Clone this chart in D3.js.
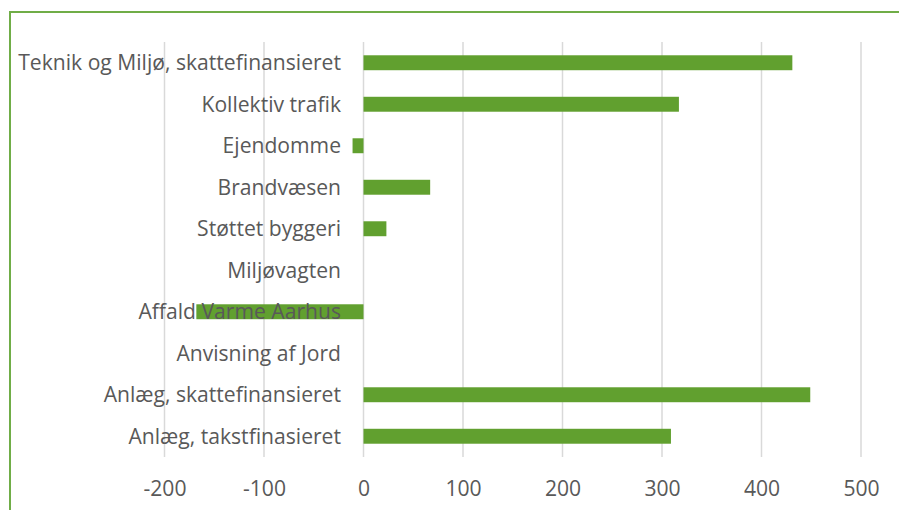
<!DOCTYPE html>
<html><head><meta charset="utf-8">
<script src="https://cdn.jsdelivr.net/npm/d3@7"></script>
<style>body{margin:0;background:#fff}svg{display:block}</style>
</head><body>
<script>
const categories = ["Teknik og Miljø, skattefinansieret","Kollektiv trafik","Ejendomme","Brandvæsen","Støttet byggeri","Miljøvagten","Affald Varme Aarhus","Anvisning af Jord","Anlæg, skattefinansieret","Anlæg, takstfinasieret"];
const values = [431, 317, -11, 67, 23, 0, -168, 0, 449, 309];
const tickValues = [-200,-100,0,100,200,300,400,500];

const W = 899, H = 510;
const svg = d3.select("body").append("svg").attr("width", W).attr("height", H);
svg.append("rect").attr("x",10).attr("y",12).attr("width",W+10).attr("height",H+10)
  .attr("fill","none").attr("stroke","#70AD47").attr("stroke-width",2);

const x = d3.scaleLinear().domain([-200,500]).range([164.5, 861]);
const y = d3.scaleBand().domain(categories).range([42, 457]).paddingInner(0.64).paddingOuter(0.32);

const grid = svg.append("g");
grid.selectAll("line").data(tickValues).join("line")
  .attr("x1", d=>x(d)).attr("x2", d=>x(d)).attr("y1",42).attr("y2",457)
  .attr("stroke","#D9D9D9").attr("stroke-width",1.5);

svg.append("g").selectAll("rect").data(categories).join("rect")
  .attr("x", (c,i)=>Math.min(x(0),x(values[i])))
  .attr("width", (c,i)=>Math.abs(x(values[i])-x(0)))
  .attr("y", c=>y(c)).attr("height", y.bandwidth())
  .attr("fill","#61A02F");

const font = "'Open Sans', sans-serif";
// measure to fit the reference label width
const probe = svg.append("text").attr("font-family",font).attr("font-size",20).text(categories[0]);
const len = probe.node().getComputedTextLength();
probe.remove();
const fs = Math.min(22, 20 * 323 / len);

svg.append("g").selectAll("text").data(categories).join("text")
  .attr("x", 341).attr("y", c=>y(c)+y.bandwidth()/2).attr("dy","0.35em")
  .attr("text-anchor","end").attr("font-family",font).attr("font-size",fs)
  .attr("fill","#595959").text(c=>c);

const axis = d3.axisBottom(x).tickValues(tickValues).tickSize(0).tickPadding(0).tickFormat(d=>String(d));
const ag = svg.append("g").attr("transform","translate(0,481)").call(axis);
ag.select(".domain").remove();
ag.selectAll("text").attr("font-family",font).attr("font-size",fs).attr("fill","#595959").attr("dy","0.71em");
</script>
</body></html>
